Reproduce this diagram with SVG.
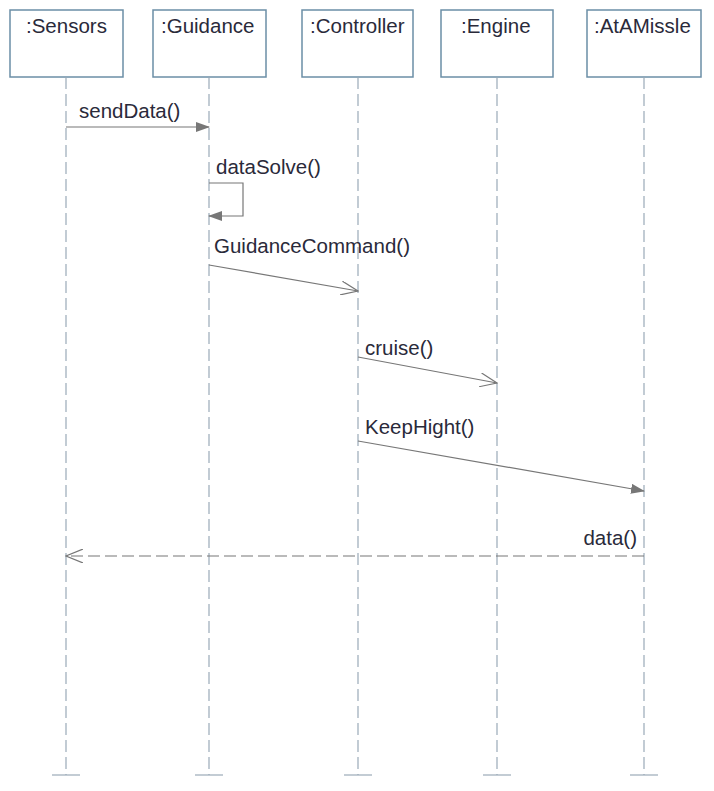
<svg xmlns="http://www.w3.org/2000/svg" width="714" height="791" viewBox="0 0 714 791">
<style>
.box{fill:#fff;stroke:#6b8ea6;stroke-width:1.5}
.life{stroke:#9aaab8;stroke-width:1.2;stroke-dasharray:12,5;fill:none}
.tick{stroke:#9aaab8;stroke-width:1.2}
.msg{stroke:#777;stroke-width:1.2;fill:none}
text{font-family:"Liberation Sans",Arial,sans-serif;font-size:20.5px;fill:#2a2a3a}
</style>
<defs>
<marker id="fill" markerWidth="14" markerHeight="10" refX="13" refY="5" orient="auto" markerUnits="userSpaceOnUse"><path d="M0,0 L14,5 L0,10 z" fill="#777"/></marker>
<marker id="open" markerWidth="18" markerHeight="14" refX="17" refY="7" orient="auto" markerUnits="userSpaceOnUse"><path d="M0,0 L17,7 L0,14" fill="none" stroke="#777" stroke-width="1.2"/></marker>
</defs>
<g id="sensors"><rect class="box" x="10" y="10" width="113" height="67"/><text x="26" y="33">:Sensors</text><line class="life" x1="66" y1="77" x2="66" y2="775"/><line class="tick" x1="52" y1="775" x2="80" y2="775"/></g>
<g id="guidance"><rect class="box" x="153" y="10" width="113" height="67"/><text x="161" y="33">:Guidance</text><line class="life" x1="209" y1="77" x2="209" y2="775"/><line class="tick" x1="195" y1="775" x2="223" y2="775"/></g>
<g id="controller"><rect class="box" x="302" y="10" width="111" height="67"/><text x="310" y="33">:Controller</text><line class="life" x1="358" y1="77" x2="358" y2="775"/><line class="tick" x1="344" y1="775" x2="372" y2="775"/></g>
<g id="engine"><rect class="box" x="441" y="10" width="112" height="67"/><text x="461" y="33">:Engine</text><line class="life" x1="497" y1="77" x2="497" y2="775"/><line class="tick" x1="483" y1="775" x2="511" y2="775"/></g>
<g id="atamissle"><rect class="box" x="587" y="10" width="114" height="67"/><text x="594" y="33">:AtAMissle</text><line class="life" x1="644" y1="77" x2="644" y2="775"/><line class="tick" x1="630" y1="775" x2="658" y2="775"/></g>
<g id="connectors">
<line class="msg" x1="66" y1="127" x2="209" y2="127" marker-end="url(#fill)"/>
<text x="79" y="118">sendData()</text>
<path class="msg" d="M209,183 H243 V216 H209" marker-end="url(#fill)"/>
<text x="216" y="174">dataSolve()</text>
<line class="msg" x1="209" y1="265" x2="358" y2="291" marker-end="url(#open)"/>
<text x="214" y="253">GuidanceCommand()</text>
<line class="msg" x1="358" y1="357" x2="497" y2="383" marker-end="url(#open)"/>
<text x="365" y="355">cruise()</text>
<line class="msg" x1="358" y1="441" x2="644" y2="491" marker-end="url(#fill)"/>
<text x="365" y="434">KeepHight()</text>
<line class="msg" x1="644" y1="556" x2="66" y2="556" stroke-dasharray="12,5" marker-end="url(#open)"/>
<text x="637" y="545" text-anchor="end">data()</text>
</g>
</svg>
